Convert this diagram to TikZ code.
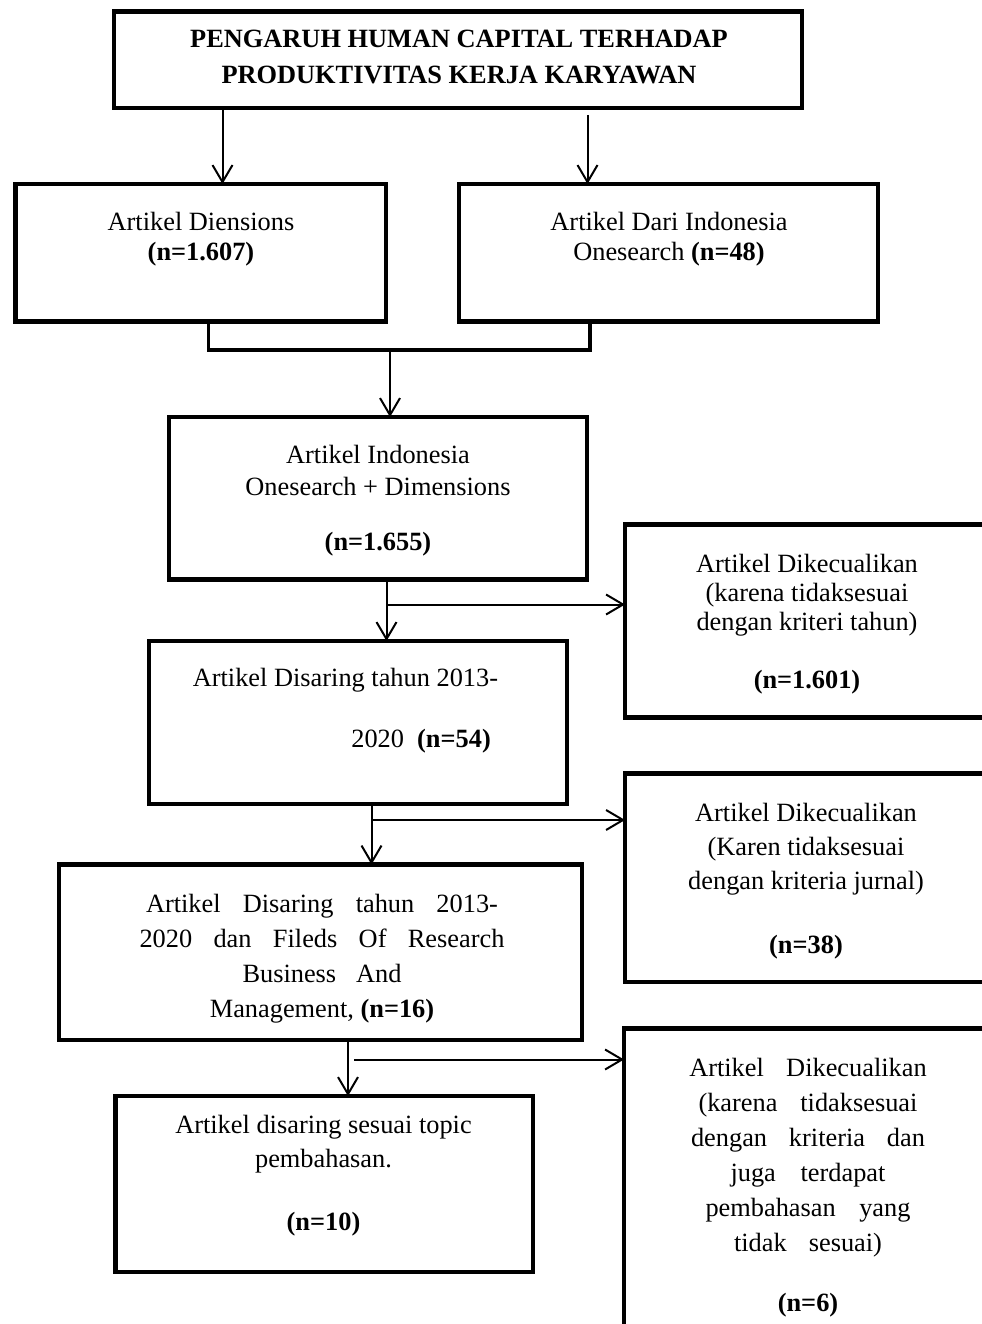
\documentclass[tikz,border=0pt]{standalone}
\usepackage{fontspec}
\setmainfont{Liberation Serif}
\usetikzlibrary{arrows.meta}

\tikzset{
  box/.style={draw, line width=0.09cm, inner sep=0pt, outer sep=0pt},
  txt/.style={align=center, inner sep=0pt, font=\fontsize{15pt}{17.6pt}\selectfont},
  arr/.style={line width=0.04cm, -{Straight Barb[length=0.34cm,width=0.4cm]}},
  joinline/.style={line width=0.07cm}
}

\begin{document}
\begin{tikzpicture}[x=0.02cm,y=-0.02cm]
  \useasboundingbox (0,0) rectangle (982,1324);
  \clip (0,0) rectangle (982,1324);

  \node[box, minimum width=13.76cm, minimum height=1.93cm] (title) at (458,59.75) {};
  \node[box, minimum width=7.41cm, minimum height=2.75cm] (dim) at (200.75,252.75) {};
  \node[box, minimum width=8.38cm, minimum height=2.75cm] (dari) at (668.5,252.75) {};
  \node[box, minimum width=8.36cm, minimum height=3.25cm] (ind) at (378,498.25) {};
  \node[box, minimum width=7.7cm, minimum height=3.86cm] (ex1) at (817.5,621) {};
  \node[box, minimum width=8.36cm, minimum height=3.26cm] (dis) at (358,722.5) {};
  \node[box, minimum width=7.7cm, minimum height=4.17cm] (ex2) at (817.5,877.75) {};
  \node[box, minimum width=10.46cm, minimum height=3.51cm] (fil) at (320.5,952.25) {};
  \node[box, minimum width=7.72cm, minimum height=6.43cm] (ex3) at (817,1189.25) {};
  \node[box, minimum width=8.35cm, minimum height=3.52cm] (top) at (324.25,1184) {};

  \node[txt, anchor=base, font=\fontsize{15pt}{17.6pt}\selectfont\bfseries] (titletxt) at (459,84)
    {PENGARUH HUMAN CAPITAL TERHADAP\\[2.9pt]PRODUKTIVITAS KERJA KARYAWAN};
  \node[txt, anchor=base] (dimtxt) at (201,261) {Artikel Diensions\\\textbf{(n=1.607)}};
  \node[txt, anchor=base] (daritxt) at (669,261) {Artikel Dari Indonesia\\Onesearch \textbf{(n=48)}};
  \node[txt, anchor=base] (indtxt) at (378,550)
    {Artikel Indonesia\\[0.6pt]Onesearch + Dimensions\\[13.7pt]\textbf{(n=1.655)}};
  \node[txt, anchor=base] (ex1txt) at (807,688)
    {Artikel Dikecualikan\\[-1.1pt](karena tidaksesuai\\[-1.1pt]dengan kriteri tahun)\\[15.4pt]\textbf{(n=1.601)}};
  \node[txt, anchor=base west, align=left] (distxt) at (192.5,747)
    {Artikel Disaring tahun 2013-\\[17.1pt]\hspace*{90.2pt}2020\ \ \textbf{(n=54)}};
  \node[txt, anchor=base] (ex2txt) at (806,953)
    {Artikel Dikecualikan\\[1.75pt](Karen tidaksesuai\\[1.75pt]dengan kriteria jurnal)\\[18.8pt]\textbf{(n=38)}};
  \node[txt, anchor=base] (filtxt) at (322,1017)
    {\makebox[7.04cm][s]{Artikel Disaring tahun 2013-}\\[2.3pt]
     \makebox[7.3cm][s]{2020 dan Fileds Of Research}\\[2.3pt]
     \makebox[3.18cm][s]{Business And}\\[2.3pt]
     Management, \textbf{(n=16)}};
  \node[txt, anchor=base] (toptxt) at (323.5,1230)
    {Artikel disaring sesuai topic\\[2.3pt]pembahasan.\\[17.7pt]\textbf{(n=10)}};
  \node[txt, anchor=base] (ex3txt) at (808,1311)
    {\makebox[4.75cm][s]{Artikel Dikecualikan}\\[2.3pt]
     \makebox[4.38cm][s]{(karena tidaksesuai}\\[2.3pt]
     \makebox[4.68cm][s]{dengan kriteria dan}\\[2.3pt]
     \makebox[3.1cm][s]{juga terdapat}\\[2.3pt]
     \makebox[4.1cm][s]{pembahasan yang}\\[2.3pt]
     \makebox[2.96cm][s]{tidak sesuai)}\\[16.5pt]
     \textbf{(n=6)}};

  \coordinate (k1) at (222.5,0);
  \coordinate (k2) at (587.5,115);
  \coordinate (j1) at (208.5,350);
  \coordinate (j2) at (590,350);
  \coordinate (k3) at (390,0);
  \coordinate (k4) at (386.5,604.5);
  \coordinate (k5) at (371.5,820);
  \coordinate (k6) at (348,0);
  \coordinate (k7) at (354,1059.5);

  \draw[arr] (title.south -| k1) -- (dim.north -| k1);
  \draw[arr] (k2) -- (dari.north -| k2);
  \draw[joinline] (dim.south -| j1) -- (j1) -- (j2) -- (dari.south -| j2);
  \draw[arr] (j1 -| k3) -- (ind.north -| k3);
  \draw[arr] (ind.south -| k4) -- (dis.north -| k4);
  \draw[arr] (k4) -- (k4 -| ex1.west);
  \draw[arr] (dis.south -| k5) -- (fil.north -| k5);
  \draw[arr] (k5) -- (k5 -| ex2.west);
  \draw[arr] (fil.south -| k6) -- (top.north -| k6);
  \draw[arr] (k7) -- (k7 -| ex3.west);
\end{tikzpicture}
\end{document}
